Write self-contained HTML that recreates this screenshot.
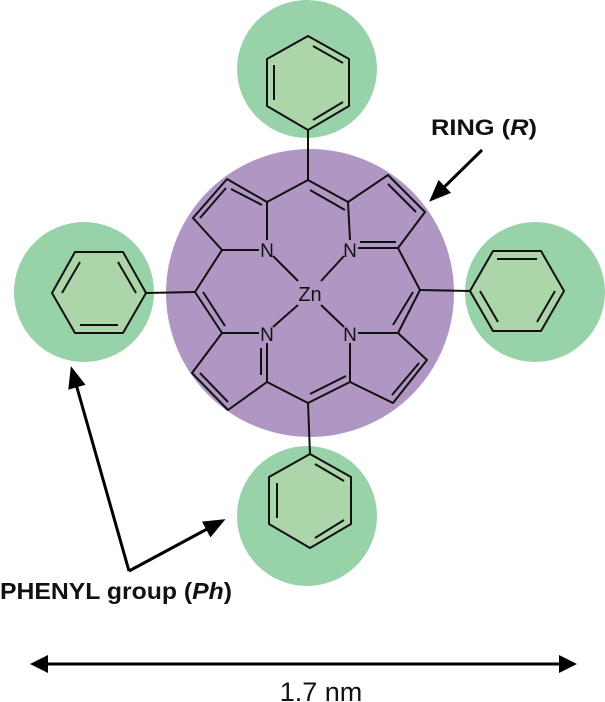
<!DOCTYPE html>
<html><head><meta charset="utf-8"><style>
html,body{margin:0;padding:0;background:#fff;}
svg{display:block;}
</style></head><body>
<svg width="605" height="702" viewBox="0 0 605 702" xmlns="http://www.w3.org/2000/svg">
<defs>
<marker id="ah" markerWidth="22" markerHeight="18" refX="18" refY="9" orient="auto" markerUnits="userSpaceOnUse" viewBox="0 0 22 18">
<path d="M0,0 L22,9 L0,18 Z" fill="#000"/>
</marker>
</defs>
<circle cx="310" cy="293" r="144" fill="#b097c3"/>
<ellipse cx="307" cy="69" rx="70" ry="69" fill="#97d2a9"/>
<ellipse cx="84" cy="292" rx="70" ry="70" fill="#97d2a9"/>
<ellipse cx="535" cy="292" rx="70" ry="70" fill="#97d2a9"/>
<ellipse cx="307" cy="516" rx="70" ry="70" fill="#97d2a9"/>

<g stroke="#111" stroke-width="2" fill="none" stroke-linejoin="round">
<polygon points="308,36 349,59 349,106 308,130 267,106 267,59" fill="#acd5a9"/>
<polyline points="274,65 274,100"/><polyline points="313,46 343,63"/><polyline points="343,102 313,120"/>
<polygon points="52,293 75,252 123,252 146,293 123,333 75,333" fill="#acd5a9"/>
<polyline points="62,293 80,262"/><polyline points="80,325 118,325"/><polyline points="118,262 136,293"/>
<polygon points="470,291 493,251 541,251 564,291 541,331 493,331" fill="#acd5a9"/>
<polyline points="497,259 537,259"/><polyline points="480,291 498,322"/><polyline points="555,291 537,322"/>
<polygon points="310,454 351,477 351,524 310,548 269,524 269,477" fill="#acd5a9"/>
<polyline points="277,483 277,518"/><polyline points="315,464 344,481"/><polyline points="344,520 315,538"/>
<line x1="308" y1="130" x2="308" y2="180"/>
<line x1="146" y1="293" x2="195" y2="292"/>
<line x1="420" y1="290" x2="470" y2="291"/>
<line x1="308" y1="403" x2="310" y2="454"/>
<polyline points="308,180 267,202 267,240"/>
<polyline points="259,250 222,250 193,218 227,179 267,202"/>
<polyline points="200,218 226,188"/><polyline points="231,189 262,205"/>
<polyline points="222,250 195,292 222,333 259,333"/>
<polyline points="203,292 225,326"/>
<polyline points="267,343 267,382 228,410 192,373 222,333"/>
<polyline points="261,348 261,375"/><polyline points="200,373 228,402"/>
<polyline points="267,382 308,403 350,382 350,343"/>
<polyline points="310,394 346,376"/>
<polyline points="358,333 398,333 427,360 393,403 350,382"/>
<polyline points="419,363 392,395"/>
<polyline points="398,333 420,290 398,248 358,248"/>
<polyline points="413,292 393,325"/><polyline points="360,242 396,242"/>
<polyline points="350,240 348,202 388,175 425,212 398,248"/>
<polyline points="388,184 416,212"/>
<polyline points="348,202 308,180"/><polyline points="345,210 310,190"/>
<line x1="273" y1="256" x2="298" y2="281"/><line x1="344" y1="256" x2="321" y2="281"/>
<line x1="273" y1="327" x2="298" y2="305"/><line x1="344" y1="327" x2="321" y2="305"/>
</g>
<g font-family="Liberation Sans, sans-serif" font-size="19" fill="#111" text-anchor="middle">
<text x="267" y="257">N</text><text x="350" y="257">N</text>
<text x="267" y="341">N</text><text x="350" y="341">N</text>
<text x="310" y="301" font-size="20">Zn</text>
</g>
<g stroke="#000" stroke-width="3" fill="none">
<line x1="482" y1="150" x2="432" y2="199" marker-end="url(#ah)"/>
<line x1="129" y1="571" x2="72" y2="370" marker-end="url(#ah)"/>
<line x1="129" y1="571" x2="222" y2="521" marker-end="url(#ah)"/>
<line x1="40" y1="664" x2="567" y2="664"/>
</g>
<path d="M30,664 L48,655 L48,673 Z" fill="#000"/>
<path d="M577,664 L559,655 L559,673 Z" fill="#000"/>
<g font-family="Liberation Sans, sans-serif" font-weight="bold" fill="#111">
<text x="431" y="135" font-size="22" textLength="106" lengthAdjust="spacingAndGlyphs">RING (<tspan font-style="italic">R</tspan>)</text>
<text x="0" y="599" font-size="23" textLength="232" lengthAdjust="spacingAndGlyphs">PHENYL group (<tspan font-style="italic">Ph</tspan>)</text>
</g>
<text x="321" y="701" font-family="Liberation Sans, sans-serif" font-size="27" text-anchor="middle" fill="#111">1.7 nm</text>
</svg>
</body></html>
